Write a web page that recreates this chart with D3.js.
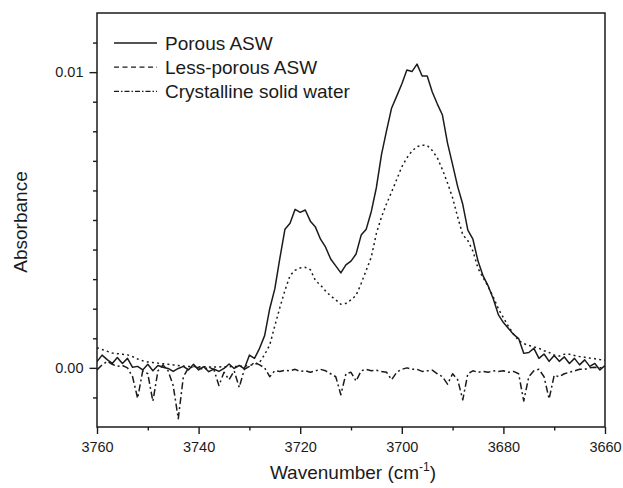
<!DOCTYPE html>
<html>
<head>
<meta charset="utf-8">
<script src="https://cdn.jsdelivr.net/npm/d3@7"></script>
<style>
  html, body { margin: 0; padding: 0; background: #fff; }
  svg { display: block; font-family: Arial, "Liberation Sans", sans-serif; }
</style>
</head>
<body>
<div id="chart"></div>
<script>
// Wavenumber grid (cm-1), 1 cm-1 steps, high -> low
const wavenumbers = [
  3760, 3759, 3758, 3757, 3756, 3755, 3754, 3753, 3752, 3751,
  3750, 3749, 3748, 3747, 3746, 3745, 3744, 3743, 3742, 3741,
  3740, 3739, 3738, 3737, 3736, 3735, 3734, 3733, 3732, 3731,
  3730, 3729, 3728, 3727, 3726, 3725, 3724, 3723, 3722, 3721,
  3720, 3719, 3718, 3717, 3716, 3715, 3714, 3713, 3712, 3711,
  3710, 3709, 3708, 3707, 3706, 3705, 3704, 3703, 3702, 3701,
  3700, 3699, 3698, 3697, 3696, 3695, 3694, 3693, 3692, 3691,
  3690, 3689, 3688, 3687, 3686, 3685, 3684, 3683, 3682, 3681,
  3680, 3679, 3678, 3677, 3676, 3675, 3674, 3673, 3672, 3671,
  3670, 3669, 3668, 3667, 3666, 3665, 3664, 3663, 3662, 3661,
  3660
];

// Absorbance, in units of 1e-3
const porousASW = [
  0.21, 0.43, 0.28, 0.15, 0.35, 0.15, 0.32, 0.02, 0.05, -0.07,
  0.12, -0.10, 0.08, 0.02, -0.02, -0.12, -0.02, 0.05, -0.07, 0.12,
  -0.07, 0.04, -0.13, -0.04, -0.12, -0.02, 0.13, -0.02, 0.08, -0.03,
  0.43, 0.32, 0.66, 1.09, 2.00, 2.67, 3.71, 4.69, 4.89, 5.36,
  5.26, 5.34, 4.96, 4.76, 4.35, 4.08, 3.68, 3.45, 3.21, 3.48,
  3.61, 3.85, 4.49, 4.69, 5.29, 6.10, 7.21, 8.02, 8.79, 9.19,
  9.60, 10.07, 10.02, 10.27, 9.87, 9.87, 9.33, 8.92, 8.55, 7.60,
  6.87, 6.13, 5.53, 4.66, 4.35, 3.61, 3.11, 2.77, 2.34, 1.80,
  1.53, 1.33, 1.13, 0.99, 0.49, 0.52, 0.66, 0.32, 0.47, 0.22,
  0.42, 0.22, 0.37, 0.15, 0.32, 0.10, 0.27, 0.05, 0.15, -0.07,
  0.08
];

const lessPorousASW = [
  0.68, 0.62, 0.56, 0.50, 0.48, 0.46, 0.44, 0.38, 0.30, 0.24,
  0.20, 0.18, 0.16, 0.14, 0.12, 0.10, 0.08, 0.06, 0.05, 0.05,
  0.04, 0.04, 0.03, 0.03, 0.03, 0.04, 0.04, 0.05, 0.05, 0.06,
  0.08, 0.12, 0.18, 0.45, 0.77, 1.42, 2.04, 2.62, 3.12, 3.30,
  3.38, 3.40, 3.32, 2.95, 2.80, 2.60, 2.43, 2.30, 2.15, 2.18,
  2.30, 2.45, 2.85, 3.30, 3.75, 4.55, 5.10, 5.55, 5.95, 6.37,
  6.80, 7.10, 7.33, 7.48, 7.53, 7.52, 7.35, 7.10, 6.70, 6.25,
  5.75, 5.10, 4.50, 4.30, 3.95, 3.37, 3.05, 2.75, 2.40, 2.00,
  1.70, 1.40, 1.15, 0.92, 0.82, 0.76, 0.71, 0.66, 0.58, 0.52,
  0.43, 0.40, 0.46, 0.46, 0.42, 0.38, 0.36, 0.33, 0.31, 0.28,
  0.26
];

const crystallineWater = [
  -0.07, 0.10, 0.22, 0.12, 0.05, 0.08, 0.00, -0.30, -1.03, -0.10,
  -0.20, -1.13, -0.10, 0.10, -0.10, -0.60, -1.72, -0.30, 0.00, 0.03,
  0.00, -0.05, 0.02, -0.05, -0.60, -0.15, -0.40, -0.10, -0.66, -0.05,
  0.05, 0.18, 0.10, 0.00, -0.30, -0.10, -0.12, -0.08, -0.10, -0.05,
  -0.12, -0.10, -0.15, -0.10, -0.05, -0.10, -0.20, -0.30, -0.91, -0.20,
  -0.15, -0.45, -0.10, -0.05, -0.10, -0.08, -0.12, -0.15, -0.40, -0.15,
  -0.05, 0.00, -0.05, -0.05, -0.12, -0.10, -0.08, -0.20, -0.30, -0.55,
  -0.20, -0.40, -1.08, -0.20, -0.10, -0.15, -0.12, -0.15, -0.10, -0.12,
  -0.10, -0.15, -0.12, -0.20, -1.12, -0.30, -0.10, -0.05, -0.30, -1.05,
  -0.25, -0.30, -0.20, -0.15, -0.10, -0.05, -0.05, 0.00, 0.02, 0.00,
  0.05
];

const seriesNames = ['Porous ASW', 'Less-porous ASW', 'Crystalline solid water'];
const xTickValues = [3760, 3740, 3720, 3700, 3680, 3660];
const yTickLabelValues = [0.00, 0.01];

// ---------------------------------------------------------------------------
const W = 623, H = 488;
const margin = { top: 13, right: 18, bottom: 61, left: 97 };
const width = W - margin.left - margin.right;
const height = H - margin.top - margin.bottom;
const ink = '#1b1b1b';

const svg = d3.select('#chart').append('svg')
  .attr('width', W).attr('height', H);

const g = svg.append('g')
  .attr('transform', `translate(${margin.left},${margin.top})`);

const x = d3.scaleLinear().domain([3760, 3660]).range([0, width]);
const y = d3.scaleLinear().domain([-0.002, 0.012]).range([height, 0]);

// series: values stored in 1e-3 units
const styles = [
  { values: porousASW, dash: null, legendDash: null },
  { values: lessPorousASW, dash: '2,3.2', legendDash: '5,3.5' },
  { values: crystallineWater, dash: '7,3,2,3', legendDash: '5,2,1.5,2' }
];

const line = d3.line()
  .x(d => x(d.wn))
  .y(d => y(d.a));

const clipId = 'plot-clip';
svg.append('defs').append('clipPath').attr('id', clipId)
  .append('rect').attr('width', width).attr('height', height);

const plotG = g.append('g').attr('clip-path', `url(#${clipId})`);

styles.forEach(s => {
  const pts = wavenumbers.map((wn, i) => ({ wn, a: s.values[i] * 1e-3 }));
  plotG.append('path')
    .datum(pts)
    .attr('d', line)
    .attr('fill', 'none')
    .attr('stroke', ink)
    .attr('stroke-width', 1.5)
    .attr('stroke-linejoin', 'round')
    .attr('stroke-dasharray', s.dash);
});

// X axis: major ticks every 20 with labels, minor every 10
const xMinor = d3.range(3750, 3660, -20);
g.append('g')
  .attr('transform', `translate(0,${height})`)
  .call(d3.axisBottom(x).tickValues(xMinor).tickSize(3.5).tickFormat(''))
  .call(a => a.select('.domain').remove());
const xAxis = g.append('g')
  .attr('transform', `translate(0,${height})`)
  .call(d3.axisBottom(x).tickValues(xTickValues).tickSize(7).tickPadding(8).tickFormat(d3.format('d')));
xAxis.select('.domain').remove();
xAxis.selectAll('text').attr('font-size', '14.5px').attr('fill', ink).attr('font-family', 'Arial, "Liberation Sans", sans-serif');

// Y axis: minor ticks every 0.001, labels only at 0.00 and 0.01
const yMinor = d3.range(-1, 12).map(v => v / 1000).filter(v => Math.abs(v) > 1e-9 && Math.abs(v - 0.01) > 1e-9);
g.append('g')
  .call(d3.axisLeft(y).tickValues(yMinor).tickSize(4).tickFormat(''))
  .call(a => a.select('.domain').remove());
const yAxis = g.append('g')
  .call(d3.axisLeft(y).tickValues(yTickLabelValues).tickSize(7.5).tickPadding(6).tickFormat(d3.format('.2f')));
yAxis.select('.domain').remove();
yAxis.selectAll('text').attr('font-size', '14.5px').attr('fill', ink).attr('font-family', 'Arial, "Liberation Sans", sans-serif');

svg.selectAll('.tick line').attr('stroke', ink).attr('stroke-width', 1.4);

// Frame
g.append('rect')
  .attr('width', width).attr('height', height)
  .attr('fill', 'none').attr('stroke', ink).attr('stroke-width', 1.5);

// Axis titles
svg.append('text')
  .attr('transform', 'translate(27,222) rotate(-90)')
  .attr('text-anchor', 'middle')
  .attr('font-size', '19px').attr('fill', ink)
  .text('Absorbance');

const xt = svg.append('text')
  .attr('x', margin.left + width / 2 + 2)
  .attr('y', 479)
  .attr('text-anchor', 'middle')
  .attr('font-size', '19px').attr('fill', ink);
xt.append('tspan').text('Wavenumber (cm');
xt.append('tspan').attr('font-size', '12px').attr('dy', '-8').text('-1');
xt.append('tspan').attr('dy', '8').text(')');

// Legend
const legend = g.append('g').attr('transform', 'translate(17,30)');
seriesNames.forEach((name, i) => {
  const row = legend.append('g').attr('transform', `translate(0,${i * 24.2})`);
  row.append('line')
    .attr('x1', 0).attr('x2', 43).attr('y1', 0).attr('y2', 0)
    .attr('stroke', ink).attr('stroke-width', 1.3)
    .attr('stroke-dasharray', styles[i].legendDash);
  row.append('text')
    .attr('x', 51).attr('y', 7)
    .attr('font-size', '19px').attr('fill', ink)
    .text(name);
});
</script>
</body>
</html>
